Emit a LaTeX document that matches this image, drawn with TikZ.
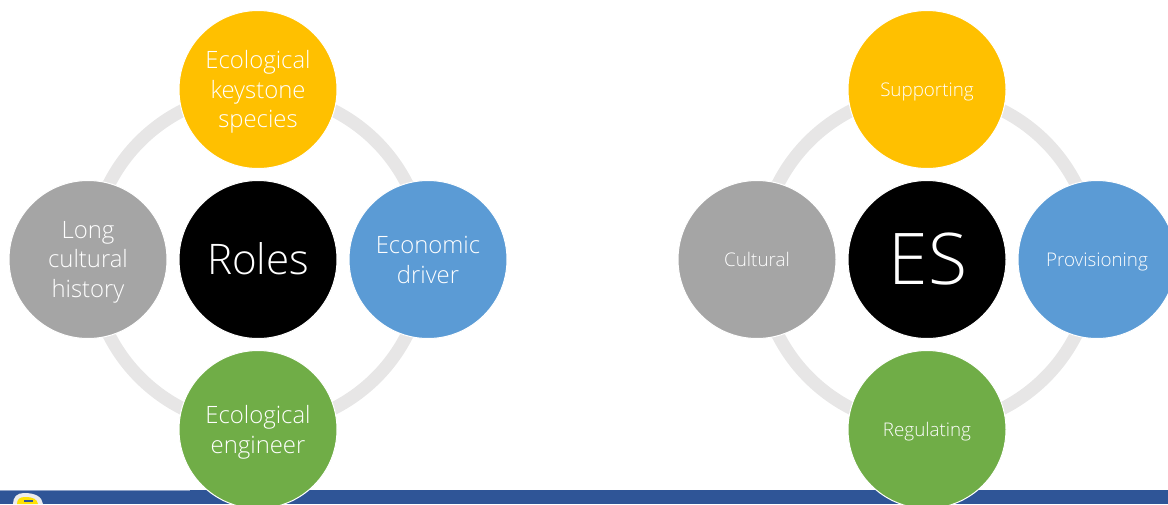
\documentclass[tikz,border=0pt]{standalone}
\usepackage{fontspec}
\setmainfont{Open Sans Light}
\definecolor{cy}{HTML}{FFC000}
\definecolor{cb}{HTML}{5B9BD5}
\definecolor{cg}{HTML}{70AD47}
\definecolor{cgr}{HTML}{A5A5A5}
\definecolor{cr}{HTML}{E7E6E6}
\definecolor{cbar}{HTML}{2F5597}
\tikzset{
 x=0.75pt,y=-0.75pt,
 disc/.style={circle,draw=white,line width=0.75pt,minimum size=118.5pt,inner sep=0pt},
 big/.style={text=white,align=center,inner sep=0pt,font=\fontsize{17.9}{22.2}\selectfont},
 small/.style={text=white,align=center,inner sep=0pt,font=\fontsize{14.1}{17}\selectfont},
 ringc/.style={circle,draw=cr,line width=9.75pt,minimum size=250.5pt,inner sep=0pt,outer sep=0pt},
}
\begin{document}
\begin{tikzpicture}
\useasboundingbox (0,0) rectangle (1168,504);
\fill[cbar] (0,490) rectangle (1168,504);
\fill[cbar!55!white] (0,489.5) rectangle (190,490.5);
% logo fragment
\fill[white!85!gray] (13,504) .. controls (13,497) and (17,493) .. (24,493) .. controls (36,493) and (42,497) .. (43,504) -- cycle;
\fill[yellow!85!orange] (17,504) .. controls (17,499) and (20,497) .. (25,497) .. controls (33,497) and (37,499) .. (38,504) -- cycle;
\fill[cbar] (24,500) rectangle (33,502);
% left group
\node[ringc] (ringL) at (258,259.5) {};
\node[disc,fill=cy] (top1) at (258,89.5) {};
\node[disc,fill=cb] (right1) at (428,259.5) {};
\node[disc,fill=cg] (bot1) at (258,429.5) {};
\node[disc,fill=cgr] (left1) at (88,259.5) {};
\node[disc,fill=black] (mid1) at (258,259.5) {};
\node[big,yshift=-1.9pt] (t1) at (top1) {Ecological\\keystone\\species};
\node[big,yshift=-0.5pt] (t2) at (right1) {Economic\\driver};
\node[big,yshift=-1.9pt] (t3) at (bot1) {Ecological\\engineer};
\node[big,yshift=-1.9pt] (t4) at (left1) {Long\\cultural\\history};
\node[text=white,font=\fontsize{31.6}{36}\selectfont,yshift=0.6pt,inner sep=0pt] (t5) at (mid1) {Roles};
% right group
\node[ringc] (ringR) at (927,259.5) {};
\node[disc,fill=cy] (top2) at (927,89.5) {};
\node[disc,fill=cb] (right2) at (1097,259.5) {};
\node[disc,fill=cg] (bot2) at (927,429.5) {};
\node[disc,fill=cgr] (left2) at (757,259.5) {};
\node[disc,fill=black] (mid2) at (927,259.5) {};
\node[small,yshift=-1.6pt] (t6) at (top2) {Supporting};
\node[small,yshift=-1.6pt] (t7) at (right2) {Provisioning};
\node[small,yshift=-1.6pt] (t8) at (bot2) {Regulating};
\node[small,yshift=0.2pt] (t9) at (left2) {Cultural};
\node[text=white,font=\fontsize{53.5}{60}\selectfont,yshift=0.6pt,xshift=0.8pt,inner sep=0pt] (t10) at (mid2) {ES};
\end{tikzpicture}
\end{document}
